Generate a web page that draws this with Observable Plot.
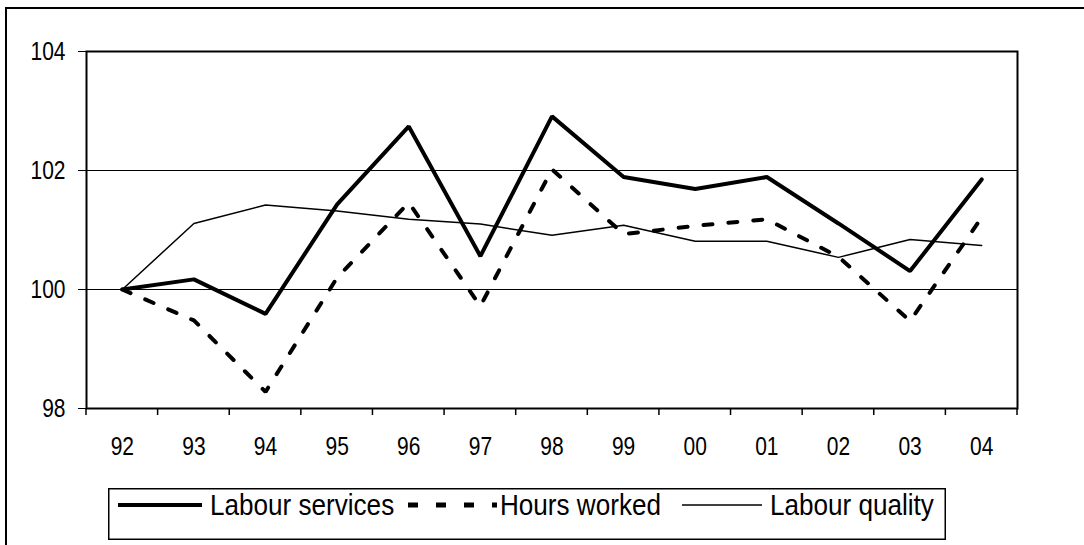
<!DOCTYPE html>
<html>
<head>
<meta charset="utf-8">
<script src="https://cdn.jsdelivr.net/npm/d3@7"></script>
<script src="https://cdn.jsdelivr.net/npm/@observablehq/plot@0.6"></script>
<style>
  html, body { margin: 0; padding: 0; background: #fff; width: 1084px; height: 545px; overflow: hidden; }
  #frame { position: absolute; left: 5px; top: 7px; width: 1300px; height: 800px; border: 2px solid #000; box-sizing: border-box; }
  #chart { position: absolute; left: 0; top: 0; }
  #legend { position: absolute; left: 108px; top: 488px; }
</style>
</head>
<body>
<div id="frame"></div>
<div id="chart"></div>
<div id="legend"></div>
<script>
const years = ["92","93","94","95","96","97","98","99","00","01","02","03","04"];
const labourServices = [100, 100.17, 99.59, 101.43, 102.74, 100.56, 102.91, 101.89, 101.69, 101.89, 101.11, 100.31, 101.85];
const hoursWorked    = [100, 99.48, 98.28, 100.2, 101.46, 99.72, 102.02, 100.93, 101.07, 101.18, 100.55, 99.47, 101.21];
const labourQuality  = [100, 101.11, 101.42, 101.32, 101.18, 101.1, 100.91, 101.08, 100.81, 100.81, 100.54, 100.84, 100.74];
const seriesNames = ["Labour services", "Hours worked", "Labour quality"];
const yTicks = [98, 100, 102, 104];
const gridValues = [100, 102];

const rows = years.map((y, i) => ({year: y, services: labourServices[i], hours: hoursWorked[i], quality: labourQuality[i]}));

const font = '"Liberation Sans", Arial, sans-serif';

const plot = Plot.plot({
  width: 1084,
  height: 480,
  marginLeft: 86,
  marginRight: 67,
  marginTop: 51,
  marginBottom: 72,
  style: {fontFamily: font, fontSize: "25px", color: "#000", background: "transparent"},
  x: {type: "band", domain: years, padding: 0, round: false, label: null},
  y: {domain: [98, 104], label: null},
  marks: [
    Plot.ruleY(gridValues, {stroke: "#000", strokeWidth: 1}),
    Plot.line(rows, {x: "year", y: "quality", stroke: "#000", strokeWidth: 1.5}),
    Plot.line(rows, {x: "year", y: "hours", stroke: "#000", strokeWidth: 4, strokeDasharray: "9,16", strokeLinejoin: "miter"}),
    Plot.line(rows, {x: "year", y: "services", stroke: "#000", strokeWidth: 4, strokeLinejoin: "miter"}),
    Plot.frame({stroke: "#000", strokeWidth: 2}),
    Plot.axisY({ticks: yTicks, tickSize: 8, tickPadding: 13, label: null, tickFormat: d => String(d), stroke: "#000"}),
    Plot.axisX({tickSize: 0, tickPadding: 29, label: null})
  ]
});
document.getElementById("chart").appendChild(plot);

// narrow the axis labels horizontally about their anchor point (Arial Narrow look)
d3.select(plot).selectAll("text").each(function() {
  const t = this.getAttribute("transform");
  if (t) this.setAttribute("transform", `${t} scale(0.84,1)`);
});

// tick marks at band boundaries, using the plot's own x scale
const sx = plot.scale("x");
const yBottom = 480 - 72;
const bounds = years.map(y => sx.apply(y)).concat([sx.apply(years[years.length - 1]) + sx.bandwidth]);
d3.select(plot).append("g")
  .attr("stroke", "#000").attr("stroke-width", 1.5)
  .selectAll("line").data(bounds).join("line")
  .attr("x1", d => d).attr("x2", d => d)
  .attr("y1", yBottom).attr("y2", yBottom + 7);

// legend (SVG, real text)
const lg = d3.select("#legend").append("svg").attr("width", 840).attr("height", 54)
  .style("display", "block").style("font-family", font).style("font-size", "29px");
lg.append("rect").attr("x", 0.75).attr("y", 0.75).attr("width", 836.5).attr("height", 50.5)
  .attr("fill", "#fff").attr("stroke", "#000").attr("stroke-width", 1.5);
const items = [
  {name: seriesNames[0], x1: 10, x2: 94, tx: 102, width: 4, dash: null},
  {name: seriesNames[1], x1: 300, x2: 389, tx: 392, width: 5, dash: "10,18"},
  {name: seriesNames[2], x1: 574, x2: 654, tx: 662, width: 1.5, dash: null}
];
items.forEach(it => {
  lg.append("line").attr("x1", it.x1).attr("x2", it.x2).attr("y1", 17).attr("y2", 17)
    .attr("stroke", "#000").attr("stroke-width", it.width).attr("stroke-dasharray", it.dash);
  lg.append("text").attr("transform", `translate(${it.tx},27) scale(0.9,1)`).attr("fill", "#000").text(it.name);
});
</script>
</body>
</html>
